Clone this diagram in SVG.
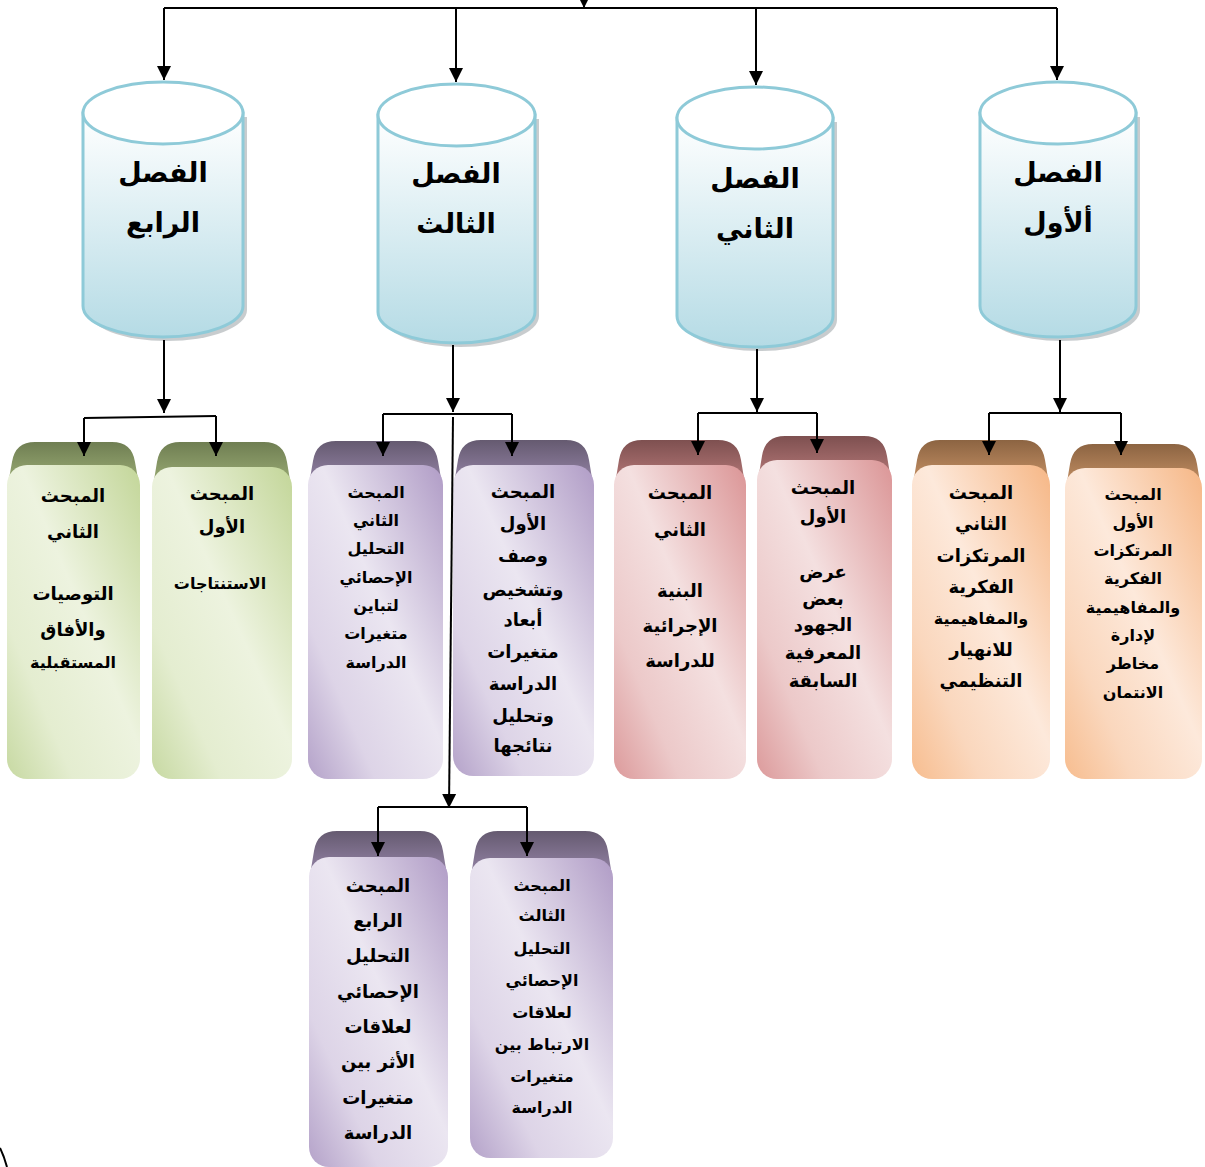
<svg xmlns="http://www.w3.org/2000/svg" width="1205" height="1167" viewBox="0 0 1205 1167">
<defs>
  <linearGradient id="cylG" x1="0" y1="0" x2="0" y2="1">
    <stop offset="0" stop-color="#ffffff"/>
    <stop offset="1" stop-color="#b5dbe5"/>
  </linearGradient>
  <linearGradient id="gFace" x1="1" y1="0" x2="0" y2="1">
    <stop offset="0" stop-color="#c3d699"/>
    <stop offset="0.45" stop-color="#edf3df"/>
    <stop offset="0.75" stop-color="#e4edd0"/>
    <stop offset="1" stop-color="#c7d9a2"/>
  </linearGradient>
  <linearGradient id="pFace" x1="1" y1="0" x2="0" y2="1">
    <stop offset="0" stop-color="#b09cc6"/>
    <stop offset="0.45" stop-color="#ebe6f1"/>
    <stop offset="0.75" stop-color="#ddd4e7"/>
    <stop offset="1" stop-color="#b4a2c9"/>
  </linearGradient>
  <linearGradient id="rFace" x1="1" y1="0" x2="0" y2="1">
    <stop offset="0" stop-color="#db9596"/>
    <stop offset="0.45" stop-color="#f4e0e0"/>
    <stop offset="0.75" stop-color="#ecc9c9"/>
    <stop offset="1" stop-color="#dc9a9b"/>
  </linearGradient>
  <linearGradient id="oFace" x1="1" y1="0" x2="0" y2="1">
    <stop offset="0" stop-color="#f6b786"/>
    <stop offset="0.45" stop-color="#fde9db"/>
    <stop offset="0.75" stop-color="#fad7bd"/>
    <stop offset="1" stop-color="#f7bd8f"/>
  </linearGradient>
  <linearGradient id="gTab" x1="0" y1="0" x2="0" y2="1">
    <stop offset="0" stop-color="#6f7e52"/>
    <stop offset="1" stop-color="#a3b57c"/>
  </linearGradient>
  <linearGradient id="pTab" x1="0" y1="0" x2="0" y2="1">
    <stop offset="0" stop-color="#655a70"/>
    <stop offset="1" stop-color="#9d8bb0"/>
  </linearGradient>
  <linearGradient id="rTab" x1="0" y1="0" x2="0" y2="1">
    <stop offset="0" stop-color="#7e5050"/>
    <stop offset="1" stop-color="#c08080"/>
  </linearGradient>
  <linearGradient id="oTab" x1="0" y1="0" x2="0" y2="1">
    <stop offset="0" stop-color="#8c6442"/>
    <stop offset="1" stop-color="#d19a6c"/>
  </linearGradient>
  <marker id="ah" markerUnits="userSpaceOnUse" markerWidth="14" markerHeight="20" refX="14" refY="7" orient="auto" viewBox="0 0 14 14">
    <path d="M0,0 L14,7 L0,14 Z" fill="#000"/>
  </marker>
</defs>
<style>
  .ln{stroke:#000;stroke-width:2;fill:none}
  .cylBody{fill:url(#cylG);stroke:#8ecad8;stroke-width:3}
  .cylTop{fill:#fff;stroke:#8ecad8;stroke-width:3}
  .cylSh{fill:#9aa3a6;opacity:0.55}
  .ct{font-family:"DejaVu Sans","Liberation Sans",sans-serif;font-weight:bold;font-size:27px;text-anchor:middle;fill:#000}
  .t{font-family:"DejaVu Sans","Liberation Sans",sans-serif;font-weight:bold;text-anchor:middle;fill:#000}
  .s18{font-size:18px}
  .s16{font-size:16px}
</style>

<!-- Cylinders -->
<g id="ch4">
  <path class="cylSh" d="M87,117 L87,310 A80,31 0 0 0 247,310 L247,117 Z"/>
  <path class="cylBody" d="M83,113 L83,306 A80,31 0 0 0 243,306 L243,113 Z"/>
  <ellipse class="cylTop" cx="163" cy="113" rx="80" ry="31"/>
  <text class="ct" x="163" y="182">الفصل</text>
  <text class="ct" x="163" y="232">الرابع</text>
</g>
<g id="ch3">
  <path class="cylSh" d="M382,119 L382,316 A78.5,31 0 0 0 539,316 L539,119 Z"/>
  <path class="cylBody" d="M378,115 L378,312 A78.5,31 0 0 0 535,312 L535,115 Z"/>
  <ellipse class="cylTop" cx="456.5" cy="115" rx="78.5" ry="31"/>
  <text class="ct" x="456" y="183">الفصل</text>
  <text class="ct" x="456" y="233">الثالث</text>
</g>
<g id="ch2">
  <path class="cylSh" d="M681,122 L681,320 A78,31 0 0 0 837,320 L837,122 Z"/>
  <path class="cylBody" d="M677,118 L677,316 A78,31 0 0 0 833,316 L833,118 Z"/>
  <ellipse class="cylTop" cx="755" cy="118" rx="78" ry="31"/>
  <text class="ct" x="755" y="188">الفصل</text>
  <text class="ct" x="755" y="238">الثاني</text>
</g>
<g id="ch1">
  <path class="cylSh" d="M984,117 L984,310 A78,31 0 0 0 1140,310 L1140,117 Z"/>
  <path class="cylBody" d="M980,113 L980,306 A78,31 0 0 0 1136,306 L1136,113 Z"/>
  <ellipse class="cylTop" cx="1058" cy="113" rx="78" ry="31"/>
  <text class="ct" x="1058" y="182">الفصل</text>
  <text class="ct" x="1058" y="232">ألأول</text>
</g>

<!-- Chapter 4 cards (green) -->
<g id="c4s2">
  <path fill="url(#gTab)" d="M7,490 L12,462 Q15,442 35,442 L112,442 Q132,442 135,462 L140,490 Z"/>
  <rect x="7" y="465" width="133" height="314" rx="20" fill="url(#gFace)"/>
  <text class="t s18" x="73" y="502">المبحث</text>
  <text class="t s18" x="73" y="538">الثاني</text>
  <text class="t s18" x="73" y="600">التوصيات</text>
  <text class="t s18" x="73" y="636">والأفاق</text>
  <text class="t s16" x="73" y="668">المستقبلية</text>
</g>
<g id="c4s1">
  <path fill="url(#gTab)" d="M152,492 L157,462 Q160,442 180,442 L264,442 Q284,442 287,462 L292,492 Z"/>
  <rect x="152" y="467" width="140" height="312" rx="20" fill="url(#gFace)"/>
  <text class="t s18" x="222" y="500">المبحث</text>
  <text class="t s18" x="222" y="533">الأول</text>
  <text class="t s16" x="220" y="589">الاستنتاجات</text>
</g>

<!-- Chapter 3 cards (purple) -->
<g id="c3s2">
  <path fill="url(#pTab)" d="M308,490 L313,461 Q316,441 336,441 L415,441 Q435,441 438,461 L443,490 Z"/>
  <rect x="308" y="465" width="135" height="314" rx="20" fill="url(#pFace)"/>
  <text class="t s16" x="376" y="498">المبحث</text>
  <text class="t s16" x="376" y="526">الثاني</text>
  <text class="t s16" x="376" y="554">التحليل</text>
  <text class="t s16" x="376" y="583">الإحصائي</text>
  <text class="t s16" x="376" y="611">لتباين</text>
  <text class="t s16" x="376" y="639">متغيرات</text>
  <text class="t s16" x="376" y="668">الدراسة</text>
</g>
<g id="c3s1">
  <path fill="url(#pTab)" d="M453,490 L458,460 Q461,440 481,440 L566,440 Q586,440 589,460 L594,490 Z"/>
  <rect x="453" y="465" width="141" height="311" rx="20" fill="url(#pFace)"/>
  <text class="t s18" x="523" y="498">المبحث</text>
  <text class="t s18" x="523" y="530">الأول</text>
  <text class="t s18" x="523" y="562">وصف</text>
  <text class="t s18" x="523" y="596">وتشخيص</text>
  <text class="t s18" x="523" y="626">أبعاد</text>
  <text class="t s18" x="523" y="658">متغيرات</text>
  <text class="t s18" x="523" y="690">الدراسة</text>
  <text class="t s18" x="523" y="722">وتحليل</text>
  <text class="t s18" x="523" y="752">نتائجها</text>
</g>

<!-- Chapter 2 cards (red) -->
<g id="c2s2">
  <path fill="url(#rTab)" d="M614,490 L619,460 Q622,440 642,440 L718,440 Q738,440 741,460 L746,490 Z"/>
  <rect x="614" y="465" width="132" height="314" rx="20" fill="url(#rFace)"/>
  <text class="t s18" x="680" y="499">المبحث</text>
  <text class="t s18" x="680" y="536">الثاني</text>
  <text class="t s18" x="680" y="597">البنية</text>
  <text class="t s18" x="680" y="632">الإجرائية</text>
  <text class="t s18" x="680" y="667">للدراسة</text>
</g>
<g id="c2s1">
  <path fill="url(#rTab)" d="M757,486 L762,456 Q765,436 785,436 L864,436 Q884,436 887,456 L892,486 Z"/>
  <rect x="757" y="460" width="135" height="319" rx="20" fill="url(#rFace)"/>
  <text class="t s18" x="823" y="494">المبحث</text>
  <text class="t s18" x="823" y="523">الأول</text>
  <text class="t s18" x="823" y="578">عرض</text>
  <text class="t s18" x="823" y="605">بعض</text>
  <text class="t s18" x="823" y="631">الجهود</text>
  <text class="t s18" x="823" y="659">المعرفية</text>
  <text class="t s18" x="823" y="687">السابقة</text>
</g>

<!-- Chapter 1 cards (orange) -->
<g id="c1s2">
  <path fill="url(#oTab)" d="M912,490 L917,460 Q920,440 940,440 L1022,440 Q1042,440 1045,460 L1050,490 Z"/>
  <rect x="912" y="465" width="138" height="314" rx="20" fill="url(#oFace)"/>
  <text class="t s18" x="981" y="499">المبحث</text>
  <text class="t s18" x="981" y="530">الثاني</text>
  <text class="t s18" x="981" y="562">المرتكزات</text>
  <text class="t s18" x="981" y="593">الفكرية</text>
  <text class="t s16" x="981" y="624">والمفاهيمية</text>
  <text class="t s18" x="981" y="656">للانهيار</text>
  <text class="t s18" x="981" y="687">التنظيمي</text>
</g>
<g id="c1s1">
  <path fill="url(#oTab)" d="M1065,494 L1070,464 Q1073,444 1093,444 L1174,444 Q1194,444 1197,464 L1202,494 Z"/>
  <rect x="1065" y="468" width="137" height="311" rx="20" fill="url(#oFace)"/>
  <text class="t s16" x="1133" y="500">المبحث</text>
  <text class="t s16" x="1133" y="528">الأول</text>
  <text class="t s16" x="1133" y="556">المرتكزات</text>
  <text class="t s16" x="1133" y="584">الفكرية</text>
  <text class="t s16" x="1133" y="613">والمفاهيمية</text>
  <text class="t s16" x="1133" y="641">لإدارة</text>
  <text class="t s16" x="1133" y="669">مخاطر</text>
  <text class="t s16" x="1133" y="698">الانتمان</text>
</g>

<!-- Chapter 3 lower cards (purple) -->
<g id="c3s4">
  <path fill="url(#pTab)" d="M309,881 L314,851 Q317,831 337,831 L420,831 Q440,831 443,851 L448,881 Z"/>
  <rect x="309" y="857" width="139" height="310" rx="20" fill="url(#pFace)"/>
  <text class="t s18" x="378" y="892">المبحث</text>
  <text class="t s18" x="378" y="927">الرابع</text>
  <text class="t s18" x="378" y="962">التحليل</text>
  <text class="t s18" x="378" y="998">الإحصائي</text>
  <text class="t s18" x="378" y="1033">لعلاقات</text>
  <text class="t s18" x="378" y="1068">الأثر بين</text>
  <text class="t s18" x="378" y="1104">متغيرات</text>
  <text class="t s18" x="378" y="1139">الدراسة</text>
</g>
<g id="c3s3">
  <path fill="url(#pTab)" d="M470,882 L475,851 Q478,831 498,831 L585,831 Q605,831 608,851 L613,882 Z"/>
  <rect x="470" y="858" width="143" height="300" rx="20" fill="url(#pFace)"/>
  <text class="t s16" x="542" y="891">المبحث</text>
  <text class="t s16" x="542" y="921">الثالث</text>
  <text class="t s16" x="542" y="954">التحليل</text>
  <text class="t s16" x="542" y="986">الإحصائي</text>
  <text class="t s16" x="542" y="1018">لعلاقات</text>
  <text class="t s16" x="542" y="1050">الارتباط بين</text>
  <text class="t s16" x="542" y="1082">متغيرات</text>
  <text class="t s16" x="542" y="1113">الدراسة</text>
</g>

<g id="connectors">
  <path class="ln" d="M584,-2 L584,8" marker-end="url(#ah)"/>
  <path class="ln" d="M164,8 L1057,8"/>
  <path class="ln" d="M164,8 L164,80" marker-end="url(#ah)"/>
  <path class="ln" d="M456,8 L456,82" marker-end="url(#ah)"/>
  <path class="ln" d="M756,8 L756,85" marker-end="url(#ah)"/>
  <path class="ln" d="M1057,8 L1057,80" marker-end="url(#ah)"/>

  <path class="ln" d="M164,340 L164,413" marker-end="url(#ah)"/>
  <path class="ln" d="M84,418 L216,416"/>
  <path class="ln" d="M84,418 L84,456" marker-end="url(#ah)"/>
  <path class="ln" d="M216,416 L216,456" marker-end="url(#ah)"/>

  <path class="ln" d="M453,345 L453,412" marker-end="url(#ah)"/>
  <path class="ln" d="M383,414 L512,414"/>
  <path class="ln" d="M383,414 L383,456" marker-end="url(#ah)"/>
  <path class="ln" d="M512,414 L512,456" marker-end="url(#ah)"/>
  <path class="ln" d="M453,417 L449,808" marker-end="url(#ah)"/>

  <path class="ln" d="M757,349 L757,412" marker-end="url(#ah)"/>
  <path class="ln" d="M698,413 L817,413"/>
  <path class="ln" d="M698,413 L698,455" marker-end="url(#ah)"/>
  <path class="ln" d="M817,413 L817,453" marker-end="url(#ah)"/>

  <path class="ln" d="M1060,340 L1060,412" marker-end="url(#ah)"/>
  <path class="ln" d="M989,413 L1121,413"/>
  <path class="ln" d="M989,413 L989,455" marker-end="url(#ah)"/>
  <path class="ln" d="M1121,413 L1121,455" marker-end="url(#ah)"/>

  <path class="ln" d="M378,807 L527,807"/>
  <path class="ln" d="M378,807 L378,856" marker-end="url(#ah)"/>
  <path class="ln" d="M527,807 L527,856" marker-end="url(#ah)"/>

  <path class="ln" d="M0,1148 Q4,1156 7,1167"/>
</g>
</svg>
